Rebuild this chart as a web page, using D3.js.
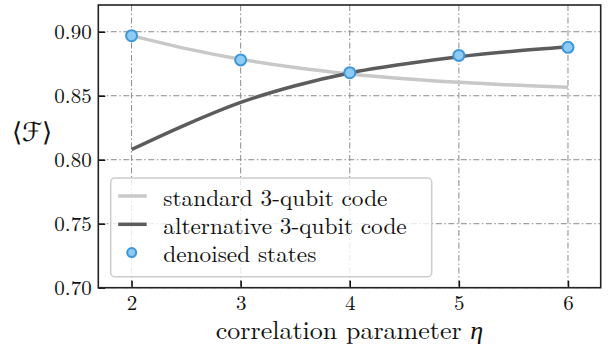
<!DOCTYPE html>
<html>
<head>
<meta charset="utf-8">
<script src="https://cdn.jsdelivr.net/npm/d3@7"></script>
<style>
  body { margin: 0; background: #fff; }
  svg { display: block; }
</style>
</head>
<body>
<svg id="chart"></svg>
<script>
const svg_width = 609;
const svg_height = 349;
const FONT = '"Latin Modern Roman", "Liberation Serif", serif';

// data
const eta = [2, 2.5, 3, 3.5, 4, 4.5, 5, 5.5, 6];
const standardCode = [0.8970, 0.8868, 0.8785, 0.8720, 0.8670, 0.8633, 0.8605, 0.8583, 0.8566];
const alternativeCode = [0.8080, 0.8275, 0.8448, 0.8578, 0.8678, 0.8748, 0.8805, 0.8848, 0.8880];
const denoisedEta = [2, 3, 4, 5, 6];
const denoisedValues = [0.8969, 0.878, 0.868, 0.8815, 0.8878];
const xTicks = [2, 3, 4, 5, 6];
const yTicks = [0.70, 0.75, 0.80, 0.85, 0.90];
const legendLabels = ['standard 3-qubit code', 'alternative 3-qubit code', 'denoised states'];

const margin = {top: 5, right: 8.3, bottom: 61.3, left: 98.3};
const innerWidth = svg_width - margin.left - margin.right;
const innerHeight = svg_height - margin.top - margin.bottom;

const svg = d3.select('#chart')
  .attr('width', svg_width)
  .attr('height', svg_height);

const g = svg.append('g').attr('transform', `translate(${margin.left}, ${margin.top})`);

const x = d3.scaleLinear().domain([1.695, 6.3]).range([0, innerWidth]);
const y = d3.scaleLinear().domain([0.70, 0.9209]).range([innerHeight, 0]);

// grid, dash-dot
const dash = '6,2.5,1.5,2.5';
g.append('g').selectAll('line').data(xTicks).join('line')
  .attr('x1', d => x(d)).attr('x2', d => x(d))
  .attr('y1', 0).attr('y2', innerHeight)
  .attr('stroke', '#8a8a8a').attr('stroke-width', 1).attr('stroke-dasharray', dash);
g.append('g').selectAll('line').data(yTicks).join('line')
  .attr('x1', 0).attr('x2', innerWidth)
  .attr('y1', d => y(d)).attr('y2', d => y(d))
  .attr('stroke', '#8a8a8a').attr('stroke-width', 1).attr('stroke-dasharray', dash);

// curves
const line = d3.line().curve(d3.curveCatmullRom);
g.append('path')
  .attr('d', line(eta.map((e, i) => [x(e), y(standardCode[i])])))
  .attr('fill', 'none').attr('stroke', '#c8c8c8').attr('stroke-width', 3.5);
g.append('path')
  .attr('d', line(eta.map((e, i) => [x(e), y(alternativeCode[i])])))
  .attr('fill', 'none').attr('stroke', '#5c5c5c').attr('stroke-width', 3.5);

// denoised points
g.append('g').selectAll('circle').data(denoisedEta).join('circle')
  .attr('cx', d => x(d))
  .attr('cy', (d, i) => y(denoisedValues[i]))
  .attr('r', 5.5)
  .attr('fill', '#8ecbf2').attr('stroke', '#3d97d8').attr('stroke-width', 2);

// axes (ticks inward)
const xAxis = g.append('g').attr('transform', `translate(0, ${innerHeight})`)
  .call(d3.axisBottom(x).tickValues(xTicks).tickFormat(d3.format('d')).tickSizeInner(-7).tickSizeOuter(0).tickPadding(7.4));
const yAxis = g.append('g')
  .call(d3.axisLeft(y).tickValues(yTicks).tickFormat(d3.format('.2f')).tickSizeInner(-7).tickSizeOuter(0).tickPadding(6.6));
[xAxis, yAxis].forEach(a => {
  a.attr('font-family', FONT);
  a.select('.domain').remove();
  a.selectAll('.tick line').attr('stroke', '#111').attr('stroke-width', 1.5);
  a.selectAll('.tick text').attr('font-family', FONT).attr('font-size', 21).attr('fill', '#111');
});

// frame
g.append('rect')
  .attr('width', innerWidth).attr('height', innerHeight)
  .attr('fill', 'none').attr('stroke', '#222').attr('stroke-width', 1.6);

// legend
const lg = svg.append('g').attr('transform', 'translate(110.7, 178)');
lg.append('rect')
  .attr('width', 321).attr('height', 98.7).attr('rx', 4)
  .attr('fill', 'white').attr('fill-opacity', 0.8)
  .attr('stroke', '#cccccc').attr('stroke-width', 1.5);
const rowY = [18, 46.3, 74.6];
lg.append('line').attr('x1', 7.5).attr('x2', 36).attr('y1', rowY[0]).attr('y2', rowY[0])
  .attr('stroke', '#c8c8c8').attr('stroke-width', 3.5);
lg.append('line').attr('x1', 7.5).attr('x2', 36).attr('y1', rowY[1]).attr('y2', rowY[1])
  .attr('stroke', '#5c5c5c').attr('stroke-width', 3.5);
lg.append('circle').attr('cx', 21).attr('cy', rowY[2]).attr('r', 4.5)
  .attr('fill', '#8ecbf2').attr('stroke', '#3d97d8').attr('stroke-width', 2);
lg.selectAll('text.lbl').data(legendLabels).join('text')
  .attr('class', 'lbl')
  .attr('x', 52.6)
  .attr('y', (d, i) => rowY[i] + 9.5)
  .attr('font-family', FONT)
  .attr('font-size', 23.3)
  .attr('fill', '#111')
  .text(d => d);

// axis labels
svg.append('text')
  .attr('x', margin.left + innerWidth / 2)
  .attr('y', 338.5)
  .attr('text-anchor', 'middle')
  .attr('font-family', FONT)
  .attr('font-size', 26)
  .attr('fill', '#111')
  .text('correlation parameter ')
  .append('tspan').attr('font-style', 'italic').text('η');

svg.append('text')
  .attr('x', 32)
  .attr('y', 141)
  .attr('text-anchor', 'middle')
  .attr('font-family', FONT)
  .attr('font-size', 26)
  .attr('fill', '#111')
  .text('⟨ℱ⟩');
</script>
</body>
</html>
